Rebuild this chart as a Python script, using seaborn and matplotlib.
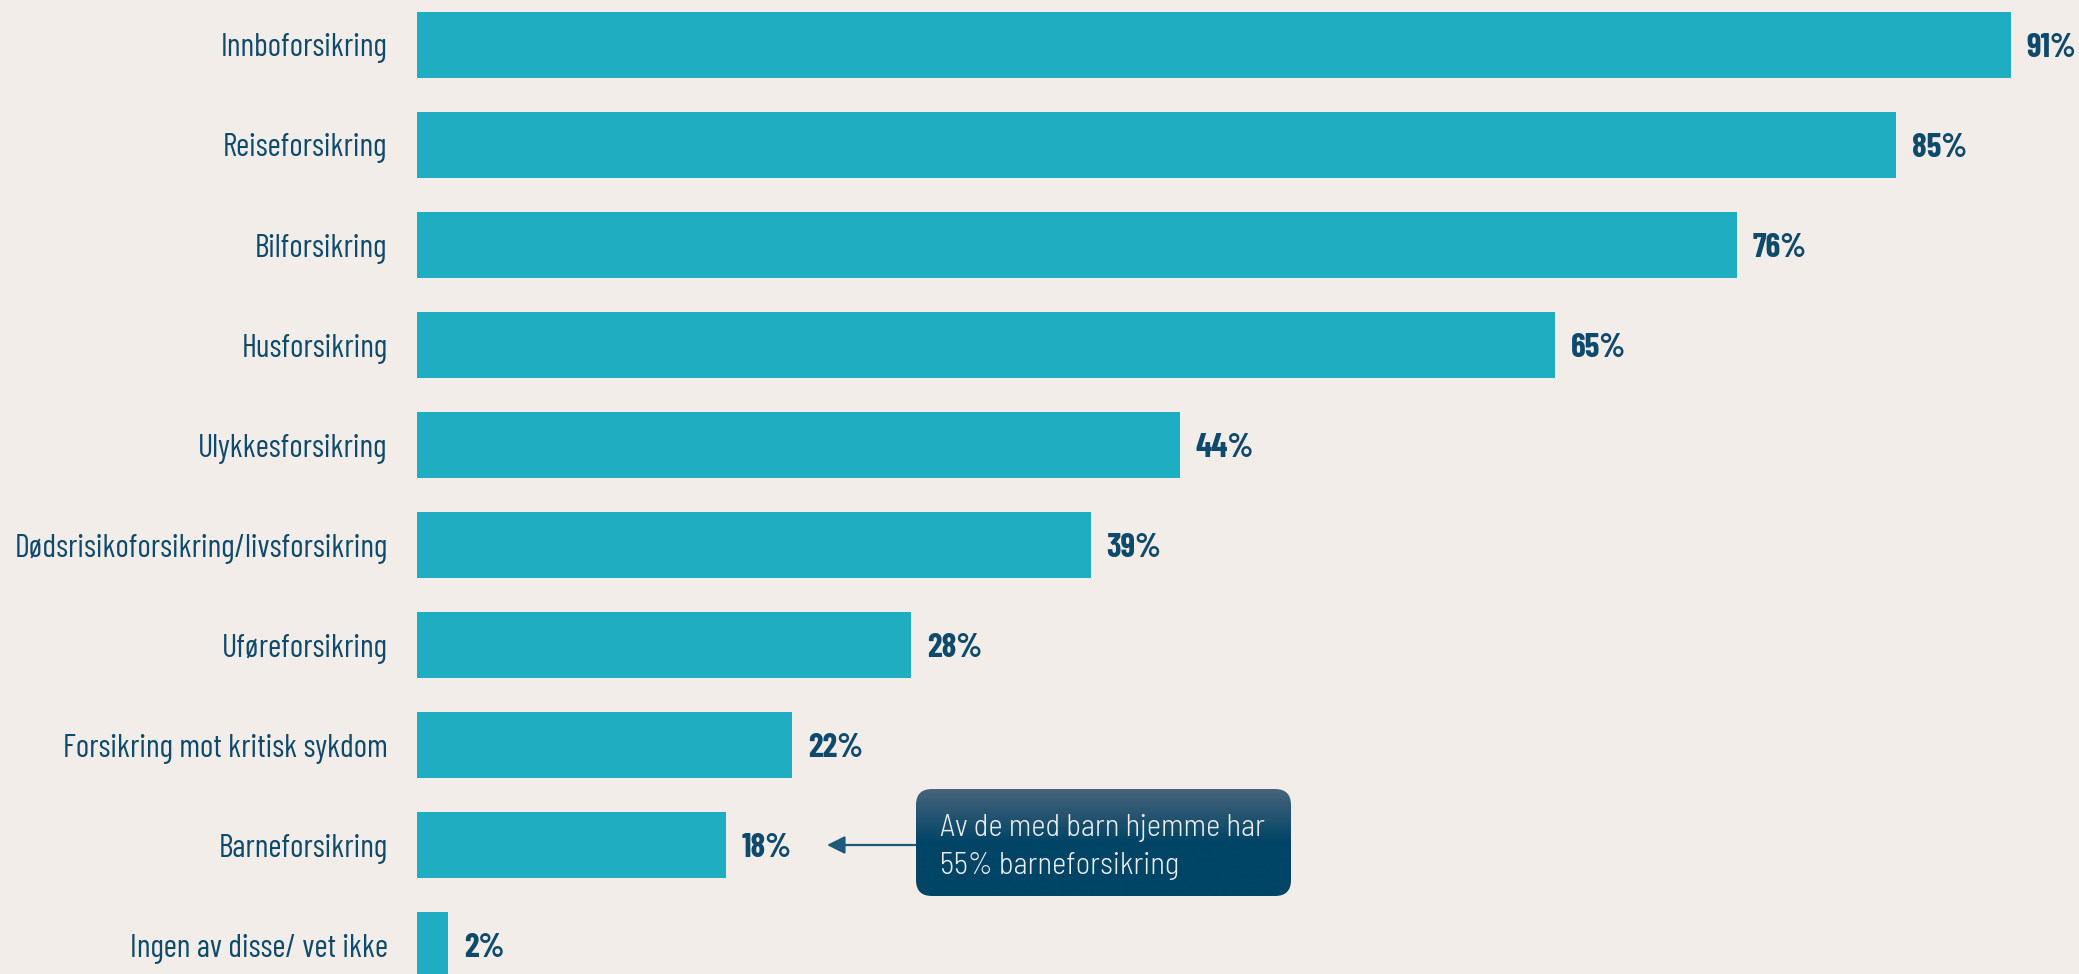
"""Horizontal bar chart: share holding each type of insurance."""

import numpy as np
import matplotlib.pyplot as plt
import seaborn as sns
from matplotlib.patches import FancyBboxPatch

categories = [
    "Innboforsikring",
    "Reiseforsikring",
    "Bilforsikring",
    "Husforsikring",
    "Ulykkesforsikring",
    "Dødsrisikoforsikring/livsforsikring",
    "Uføreforsikring",
    "Forsikring mot kritisk sykdom",
    "Barneforsikring",
    "Ingen av disse/ vet ikke",
]
# bar lengths, printed labels are rounded
values = [91.3, 84.7, 75.6, 65.2, 43.7, 38.6, 28.3, 21.5, 17.7, 1.8]
value_labels = ["91%", "85%", "76%", "65%", "44%", "39%", "28%", "22%", "18%", "2%"]
note_lines = ["Av de med barn hjemme har", "55% barneforsikring"]
note_category = "Barneforsikring"

BG = "#f2ede9"
BAR = "#1eadc1"
NAVY = "#0d4a6b"
COND = ["Barlow Condensed", "DejaVu Sans"]
SEMI = ["Barlow Semi Condensed", "DejaVu Sans"]

sns.set_theme(style="white")
plt.rcParams["font.family"] = COND

W, H = 2079, 974
fig = plt.figure(figsize=(W / 100, H / 100), dpi=100, facecolor=BG)

# axes start where the bars start, and run to the figure edges
x0 = 416.7
ax = fig.add_axes([x0 / W, 0, 1 - x0 / W, 1], facecolor=BG)
sns.barplot(x=values, y=categories, orient="h", color=BAR, saturation=1,
            width=0.66, linewidth=0, ax=ax)

px_per_pct = 17.46
ax.set_xlim(0, (W - x0) / px_per_pct)
ax.set_ylim((H - 45) / 100, -0.45)

texts = ax.bar_label(ax.containers[0], labels=value_labels, padding=11.5,
                     fontsize=24, fontweight=700, color=NAVY)
for t in texts:
    x, y = t.xyann
    t.xyann = (x, y - 2.5)

ax.set_xlabel("")
ax.set_ylabel("")
ax.set_xticks([])
ax.tick_params(axis="y", length=0, pad=21, labelsize=23, labelcolor=NAVY)
for lab in ax.get_yticklabels():
    lab.set_fontweight(400)
    lab.set_va("center_baseline")
for s in ax.spines.values():
    s.set_visible(False)

# arrow from the note box towards the Barneforsikring label
row = categories.index(note_category)
val = values[row]
box_l, box_t, box_r, box_b = 916, 789, 1291, 896
tip_x = val + 5.8
tail_x = (box_l - x0) / px_per_pct
ax.annotate("", xy=(tip_x, row), xytext=(tail_x, row),
            arrowprops=dict(arrowstyle="-|>", color="#1f5a7a", lw=1.6,
                            mutation_scale=27, shrinkA=0, shrinkB=0))

# note box with a soft vertical gradient
bw, bh = box_r - box_l, box_b - box_t
bax = fig.add_axes([box_l / W, 1 - box_b / H, bw / W, bh / H])
bax.set_xlim(0, bw)
bax.set_ylim(0, bh)
bax.axis("off")
patch = FancyBboxPatch((0, 0), bw, bh, boxstyle="round,pad=0,rounding_size=16",
                       facecolor="none", edgecolor="none")
bax.add_patch(patch)
top = np.array([0x48, 0x64, 0x7b]) / 255
bot = np.array([0x00, 0x44, 0x66]) / 255
tt = np.clip(np.linspace(0, 1, 200) / 0.5, 0, 1)[:, None]
grad = (top * (1 - tt) + bot * tt)[:, None, :]
img = bax.imshow(grad, extent=(0, bw, 0, bh), origin="upper", aspect="auto")
img.set_clip_path(patch)
for i, line in enumerate(note_lines):
    bax.text(24, bh - 39 - 38 * i, line, fontsize=22, fontweight=300,
             family=SEMI, color="#eceef0", va="center")

fig.savefig("out.png", dpi=100, facecolor=BG)
